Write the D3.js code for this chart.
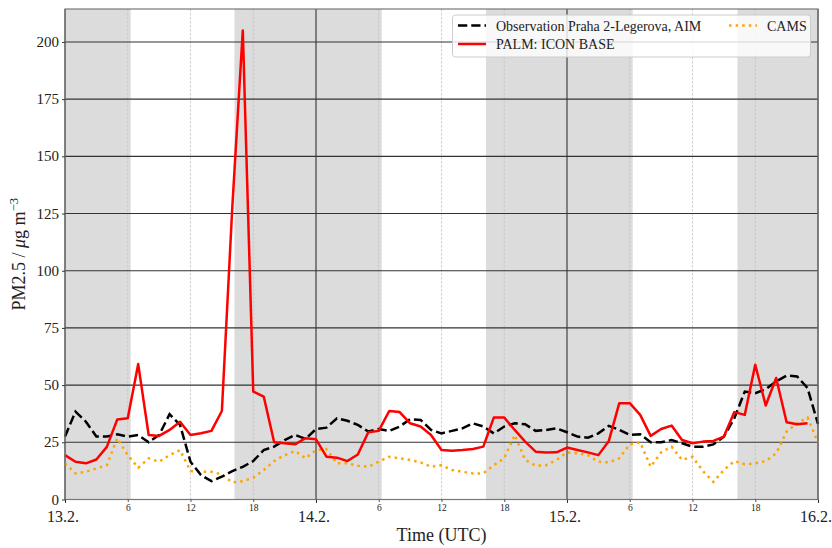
<!DOCTYPE html>
<html><head><meta charset="utf-8">
<script src="https://cdn.jsdelivr.net/npm/d3@7"></script>
<style>
html,body{margin:0;padding:0;background:#fff;}
svg{display:block;font-family:"Liberation Serif","Times New Roman",serif;}
</style></head>
<body>
<svg id="chart" width="832" height="548"></svg>
<script>
// ---- data (hourly, hour 0 = 13.2. 00 UTC) ----
const obsValues = [27.5,38.4,34,27.5,27.5,28.5,27.5,28.2,25,28.2,37.3,32.6,16.5,10.7,8,10,12.4,14.3,16.8,21.6,
  23.1,26,28.2,26.5,30.8,31.4,35.5,34.4,32.6,29.7,30.8,30,31.9,35.1,34.8,30.4,28.9,30,31.1,33.3,
  31.9,28.9,31.9,33.3,32.9,30,30.4,31.1,29.4,27.5,27,28.9,32.2,30.4,28.2,28.5,25,25,26,24.6,
  23.1,23.1,24.1,27.5,35.5,47.2,46.5,48.2,51.6,54.2,53.8,48.7,33];
const palmValues = [19.4,16.5,15.8,17.5,23,35,35.5,59.2,28.2,27.8,30.4,34,28.2,29,30,38.7,128,205,47.2,45,
  25,24.6,24.1,26.8,26.3,18.7,18.3,16.8,19.7,29.4,30,38.7,38.2,33.3,31.9,28.2,21.6,21.3,21.6,22.1,
  23.1,35.8,35.8,30.4,25.3,20.9,20.5,20.6,22.7,21.6,20.6,19.4,25.6,42.1,42.1,37,27.8,30.8,32.3,26,
  24.6,25.3,25.6,27.5,38.2,37,58.9,41.1,53.1,33.8,32.9,33.3];
const camsValues = [15.8,11.4,12.1,13.6,15,26.8,19.4,13.9,18,16.5,19.4,21.6,12.4,12.1,12.1,11,7.5,8,9.5,12.9,
  16.8,19.4,21.2,18,21.6,22,15.8,15.8,14.8,14.3,16.5,18.7,18,17.3,16.2,14.3,15,12.9,12.1,11.4,
  11.4,15,18,28.2,17.3,14.8,15,17.3,20.6,20.2,19.4,16.5,16.2,18,24.1,25,14.3,20.6,23.1,17.3,
  18.7,12.4,7.7,12.9,16.8,15.4,15.8,16.8,20.2,29.7,33.3,35.8,25];
const nightStart = [0, 16.2, 40.25, 64.3];
const nightEnd   = [6.28, 30.28, 54.28, 72];
const dayTicks = [0, 24, 48, 72];
const dayLabels = ["13.2.", "14.2.", "15.2.", "16.2."];
const hourTicks = [6, 12, 18, 30, 36, 42, 54, 60, 66];
const hourLabels = ["6","12","18","6","12","18","6","12","18"];
const yTicks = [0,25,50,75,100,125,150,175,200];
const seriesNames = ["Observation Praha 2-Legerova, AIM", "PALM: ICON BASE", "CAMS"];

// ---- layout ----
const svg = d3.select("#chart");
const L = 65, R = 818, T = 9, B = 499.5;
const x = d3.scaleLinear().domain([0, 72]).range([L, R]);
const y = d3.scaleLinear().domain([0, 214.4]).range([B, T]);

// night shading
svg.append("g").selectAll("rect").data(nightStart).join("rect")
  .attr("x", (d) => x(d)).attr("y", T)
  .attr("width", (d, i) => x(nightEnd[i]) - x(d)).attr("height", B - T)
  .attr("fill", "#dcdcdc");

// minor vertical grid
svg.append("g").selectAll("line").data(hourTicks).join("line")
  .attr("x1", (d) => x(d)).attr("x2", (d) => x(d)).attr("y1", T).attr("y2", B)
  .attr("stroke", "#bdbdbd").attr("stroke-width", 0.7).attr("stroke-dasharray", "2.5,1.5");
// major vertical grid
svg.append("g").selectAll("line").data(dayTicks).join("line")
  .attr("x1", (d) => x(d)).attr("x2", (d) => x(d)).attr("y1", T).attr("y2", B)
  .attr("stroke", "#333").attr("stroke-width", 1.1);
// horizontal grid
svg.append("g").selectAll("line").data(yTicks).join("line")
  .attr("x1", L).attr("x2", R).attr("y1", (d) => y(d)).attr("y2", (d) => y(d))
  .attr("stroke", "#333").attr("stroke-width", 1.1);

// series lines
const line = d3.line().x((d, i) => x(i)).y((d) => y(d));
svg.append("path").datum(camsValues).attr("d", line)
  .attr("fill", "none").attr("stroke", "#ffa500").attr("stroke-width", 2.5)
  .attr("stroke-dasharray", "2.5,4.1");
svg.append("path").datum(obsValues).attr("d", line)
  .attr("fill", "none").attr("stroke", "#000").attr("stroke-width", 2.5)
  .attr("stroke-dasharray", "9.25,4");
svg.append("path").datum(palmValues).attr("d", line)
  .attr("fill", "none").attr("stroke", "#ff0000").attr("stroke-width", 2.5)
  .attr("stroke-linejoin", "round");

// frame
svg.append("rect").attr("x", L).attr("y", T).attr("width", R - L).attr("height", B - T)
  .attr("fill", "none").attr("stroke", "#777").attr("stroke-width", 1.2);

// y axis
const yAxis = d3.axisLeft(y).tickValues(yTicks).tickSize(3).tickPadding(3);
const gy = svg.append("g").attr("transform", `translate(${L},0)`).call(yAxis);
gy.select(".domain").remove();
gy.selectAll(".tick line").attr("stroke", "#333");
gy.selectAll(".tick text").attr("font-family", "Liberation Serif, serif").attr("font-size", 15)
  .attr("fill", "#222").attr("dy", "0.3em");

// x axis major
const xMaj = d3.axisBottom(x).tickValues(dayTicks).tickFormat((d, i) => dayLabels[i]).tickSize(3.5).tickPadding(7.5);
const gx = svg.append("g").attr("transform", `translate(0,${B})`).call(xMaj);
gx.select(".domain").remove();
gx.selectAll(".tick line").attr("stroke", "#333");
gx.selectAll(".tick text").attr("font-family", "Liberation Serif, serif").attr("font-size", 16)
  .attr("fill", "#222").attr("dx", -2.5);
// x axis minor
const xMin = d3.axisBottom(x).tickValues(hourTicks).tickFormat((d, i) => hourLabels[i]).tickSize(2.5).tickPadding(2);
const gx2 = svg.append("g").attr("transform", `translate(0,${B})`).call(xMin);
gx2.select(".domain").remove();
gx2.selectAll(".tick line").attr("stroke", "#555");
gx2.selectAll(".tick text").attr("font-family", "Liberation Serif, serif").attr("font-size", 9.5).attr("fill", "#222");

// axis labels
svg.append("text").attr("x", (L + R) / 2).attr("y", 541).attr("text-anchor", "middle")
  .attr("font-size", 18).attr("fill", "#222").text("Time (UTC)");
const yl = svg.append("text").attr("transform", `translate(25,${(T + B) / 2}) rotate(-90)`)
  .attr("text-anchor", "middle").attr("font-size", 18).attr("fill", "#222");
yl.append("tspan").text("PM2.5 / ");
yl.append("tspan").attr("font-style", "italic").text("μ");
yl.append("tspan").text("g m");
yl.append("tspan").attr("font-size", 12.5).attr("dy", -7).text("−3");

// legend
const lg = svg.append("g");
lg.append("rect").attr("x", 452.5).attr("y", 15).attr("width", 358).attr("height", 42).attr("rx", 3)
  .attr("fill", "#fff").attr("fill-opacity", 0.8).attr("stroke", "#ccc").attr("stroke-width", 1);
const legendItems = [
  {name: seriesNames[0], x0: 458, y0: 25.5, color: "#000", dash: "9.25,4"},
  {name: seriesNames[1], x0: 458, y0: 44, color: "#ff0000", dash: null},
  {name: seriesNames[2], x0: 729, y0: 25.5, color: "#ffa500", dash: "2.5,4.1"}
];
legendItems.forEach((it) => {
  const ln = lg.append("line").attr("x1", it.x0).attr("x2", it.x0 + 28).attr("y1", it.y0).attr("y2", it.y0)
    .attr("stroke", it.color).attr("stroke-width", 2.5);
  if (it.dash) ln.attr("stroke-dasharray", it.dash);
  lg.append("text").attr("x", it.x0 + 38).attr("y", it.y0 + 5).attr("font-size", 14).attr("fill", "#222").text(it.name);
});
</script>
</body></html>
